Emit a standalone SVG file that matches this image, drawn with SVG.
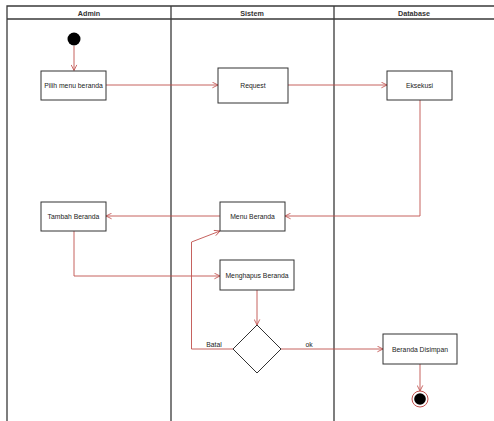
<svg xmlns="http://www.w3.org/2000/svg" width="494" height="421" viewBox="0 0 494 421">
  <style>
    .lane { fill: none; stroke: #3a3a3a; stroke-width: 1.3; }
    .head { font-family: "Liberation Sans", Arial, sans-serif; font-size: 7.2px; font-weight: bold; fill: #333; text-anchor: middle; }
    .box { fill: #fff; stroke: #333; stroke-width: 1; }
    .lbl { font-family: "Liberation Sans", Arial, sans-serif; font-size: 6.8px; fill: #222; text-anchor: middle; dominant-baseline: central; }
    .flow { fill: none; stroke: #c0504d; stroke-width: 0.9; marker-end: url(#arr); }
  </style>
  <defs>
    <marker id="arr" viewBox="0 0 10 10" refX="9" refY="5" markerWidth="7" markerHeight="7" orient="auto" markerUnits="userSpaceOnUse">
      <path d="M1,1 L9,5 L1,9" fill="none" stroke="#c0504d" stroke-width="1.2"/>
    </marker>
  </defs>
  <rect width="494" height="421" fill="#fff"/>

  <!-- swimlanes -->
  <g id="lanes">
    <path class="lane" d="M7,421 V6 H494 M7,19 H494 M171,6 V421 M334,6 V421"/>
    <text class="head" x="89" y="15.5">Admin</text>
    <text class="head" x="252" y="15.5">Sistem</text>
    <text class="head" x="414" y="15.5">Database</text>
  </g>

  <!-- connectors -->
  <g id="connectors">
    <path class="flow" d="M74,46 V70.5"/>
    <path class="flow" d="M106,85 H218"/>
    <path class="flow" d="M288,85 H387"/>
    <path class="flow" d="M420,100 V216 H285"/>
    <path class="flow" d="M220,216 H106"/>
    <path class="flow" d="M74,231 V276 H220"/>
    <path class="flow" d="M257,290 V325"/>
    <path class="flow" d="M234,349 H191.5 V242 L220,231"/>
    <path class="flow" d="M281,349 H383"/>
    <path class="flow" d="M420,364 V391"/>
    <text class="lbl" x="214" y="344">Batal</text>
    <text class="lbl" x="309" y="344">ok</text>
  </g>

  <!-- nodes -->
  <g id="start">
    <circle cx="74" cy="39" r="6.5" fill="#000"/>
  </g>
  <g id="pilih-menu">
    <rect class="box" x="41" y="71" width="65" height="29"/>
    <text class="lbl" x="73.5" y="85.5">Pilih menu beranda</text>
  </g>
  <g id="request">
    <rect class="box" x="218" y="68" width="70" height="35"/>
    <text class="lbl" x="253" y="85">Request</text>
  </g>
  <g id="eksekusi">
    <rect class="box" x="387" y="71" width="65" height="29"/>
    <text class="lbl" x="419.5" y="85.5">Eksekusi</text>
  </g>
  <g id="menu-beranda">
    <rect class="box" x="220" y="202" width="65" height="29"/>
    <text class="lbl" x="252.5" y="216.5">Menu Beranda</text>
  </g>
  <g id="tambah-beranda">
    <rect class="box" x="41" y="202" width="65" height="29"/>
    <text class="lbl" x="73.5" y="216.5">Tambah Beranda</text>
  </g>
  <g id="menghapus-beranda">
    <rect class="box" x="220" y="260" width="74" height="30"/>
    <text class="lbl" x="257" y="275.5">Menghapus Beranda</text>
  </g>
  <g id="decision">
    <path class="box" d="M257,325 L281,349 L257,373 L233,349 Z"/>
  </g>
  <g id="beranda-disimpan">
    <rect class="box" x="383" y="334" width="74" height="30"/>
    <text class="lbl" x="420" y="349.5">Beranda Disimpan</text>
  </g>
  <g id="end">
    <circle cx="420" cy="399" r="8" fill="#fff" stroke="#c0504d" stroke-width="1"/>
    <circle cx="420" cy="399" r="5.8" fill="#000"/>
  </g>
</svg>
